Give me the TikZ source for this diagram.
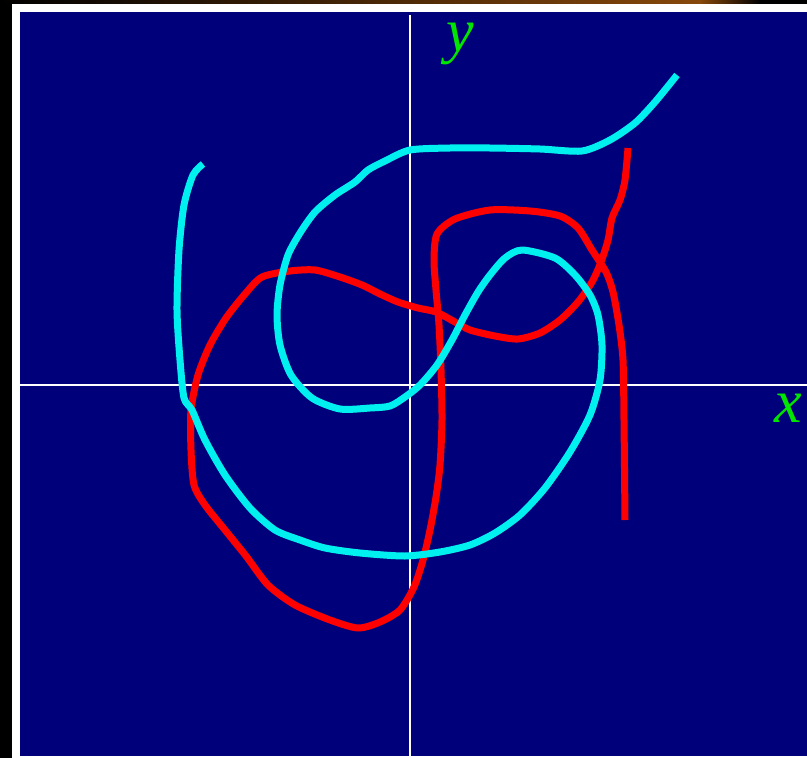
\documentclass[tikz,border=0pt]{standalone}
\usepackage{fontspec}
\setmainfont{Liberation Serif}
\begin{document}
\begin{tikzpicture}[x=1pt,y=-1pt,
  curve/.style={line width=7pt,line join=round,line cap=butt},
  axis/.style={white,line width=2.2pt},
  lbl/.style={text=labelgreen,font=\fontsize{62}{62}\selectfont\itshape,inner sep=0pt,anchor=base}]
\definecolor{navy}{RGB}{0,0,122}
\definecolor{labelgreen}{RGB}{0,230,0}
\definecolor{brownish}{RGB}{135,72,10}
\definecolor{redc}{RGB}{255,0,0}
\definecolor{cyanc}{RGB}{0,240,240}
\useasboundingbox (0,0) rectangle (807,758);
\fill[black] (0,0) rectangle (807,758);
\shade[left color=black,right color=brownish] (0,0) rectangle (700,4);
\shade[left color=brownish,right color=black] (700,0) rectangle (760,4);
\fill[white] (12,4) rectangle (807,758);
\fill[navy] (20,12) rectangle (807,756);
% axes
\coordinate (yt) at (410,15);
\coordinate (yb) at (410,758);
\coordinate (xl) at (20,385);
\coordinate (xr) at (807,385);
\draw[axis] (yt) -- (yb);
\draw[axis] (xl) -- (xr);
\node[lbl] (ylab) at (460,51) {y};
\node[lbl] (xlab) at (788,422) {x};
% red curve
\draw[curve,redc] plot[smooth,tension=0.45] coordinates {
 (628,148) (625,180) (620,200) (612,218) (608,240) (601,262) (592,282)
 (578,302) (560,320) (540,333) (518,339) (495,336) (470,330) (455,322)
 (436,312) (418,308) (398,302) (380,294) (362,285) (340,277) (315,270)
 (290,271) (262,277) (245,294) (226,318) (210,345) (198,375) (191,410)
 (191,450) (194,485) (205,505) (225,530) (246,556) (268,585) (295,605)
 (330,620) (358,628) (380,622) (400,610) (414,587) (423,560) (430,530)
 (436,497) (440,465) (442,420) (441,370) (439,325) (436,290) (434,260)
 (437,234) (455,219) (490,210) (530,211) (560,216) (578,228) (592,250)
 (606,272) (613,292) (619,325) (623,360) (624,420) (625,520)};
% cyan curve
\draw[curve,cyanc] plot[smooth,tension=0.45] coordinates {
 (203,164) (193,175) (184,205) (179,250) (177,310) (180,360) (184,398)
 (192,410) (205,440) (225,475) (250,508) (275,530) (300,540) (325,548)
 (360,553) (405,556) (440,552) (470,545) (495,533) (520,515) (545,488)
 (570,452) (590,415) (600,380) (602,345) (598,315) (590,295) (575,275)
 (555,258) (522,250) (505,258) (490,275) (478,292) (465,315) (452,340)
 (437,365) (420,385) (405,397) (390,406) (370,408) (340,409) (312,398)
 (291,375) (280,345) (277,315) (280,285) (288,255) (300,233) (315,212)
 (335,195) (355,182) (368,170) (385,161) (410,150) (450,148) (490,148)
 (540,149) (582,151) (610,140) (635,123) (655,102) (677,75)};
\end{tikzpicture}
\end{document}
